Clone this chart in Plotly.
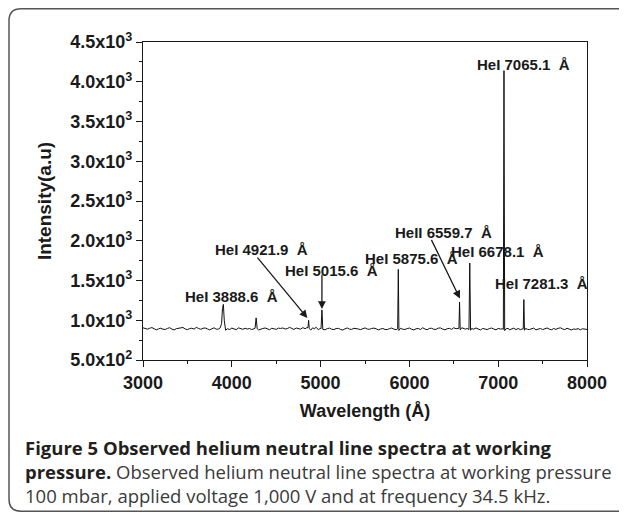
import plotly.graph_objects as go

# ---------------- Spectrum data ----------------
wavelength = [
    3000, 3025, 3050, 3075, 3100, 3125, 3150, 3175, 3200, 3225,
    3250, 3275, 3300, 3325, 3350, 3375, 3400, 3425, 3450, 3475,
    3500, 3525, 3550, 3575, 3600, 3625, 3650, 3675, 3700, 3725,
    3750, 3775, 3800, 3825, 3850, 3870, 3885, 3895, 3905, 3915,
    3930, 3950, 3975, 4000, 4025, 4050, 4075, 4100, 4125, 4150,
    4175, 4200, 4225, 4250, 4262, 4274, 4286, 4300, 4325, 4350,
    4375, 4400, 4425, 4450, 4475, 4500, 4525, 4550, 4575, 4600,
    4625, 4650, 4675, 4700, 4725, 4750, 4775, 4800, 4825, 4845,
    4858, 4865, 4872, 4890, 4910, 4930, 4950, 4975, 4995, 5005,
    5015, 5025, 5050, 5075, 5100, 5125, 5150, 5175, 5200, 5225,
    5250, 5275, 5300, 5325, 5350, 5375, 5400, 5425, 5450, 5475,
    5500, 5525, 5550, 5575, 5600, 5625, 5650, 5675, 5700, 5725,
    5750, 5775, 5800, 5825, 5850, 5868, 5875, 5882, 5900, 5925,
    5950, 5975, 6000, 6025, 6050, 6075, 6100, 6125, 6150, 6175,
    6200, 6225, 6250, 6275, 6300, 6325, 6350, 6375, 6400, 6425,
    6450, 6475, 6500, 6525, 6545, 6558, 6565, 6572, 6590, 6610,
    6630, 6650, 6671, 6680, 6689, 6700, 6725, 6750, 6775, 6800,
    6825, 6850, 6875, 6900, 6925, 6950, 6975, 7000, 7025, 7045,
    7058, 7065, 7073, 7090, 7110, 7130, 7150, 7175, 7200, 7225,
    7250, 7270, 7282, 7289, 7296, 7310, 7330, 7350, 7375, 7400,
    7425, 7450, 7475, 7500, 7525, 7550, 7575, 7600, 7625, 7650,
    7675, 7700, 7725, 7750, 7775, 7800, 7825, 7850, 7875, 7900,
    7925, 7950, 7975, 8000,
]

intensity = [
    905, 896, 888, 899, 908, 893, 880, 891, 900, 887,
    884, 897, 906, 889, 878, 894, 897, 903, 909, 890,
    882, 895, 900, 888, 910, 897, 886, 899, 903, 891,
    879, 893, 905, 887, 890, 905, 960, 1150, 1200, 1000,
    875, 893, 884, 901, 890, 882, 904, 895, 886, 899,
    890, 896, 883, 893, 900, 1030, 892, 878, 890, 896,
    903, 888, 881, 899, 893, 885, 901, 897, 903, 889,
    895, 910, 898, 884, 902, 893, 888, 907, 894, 906,
    908, 1000, 896, 876, 905, 893, 912, 880, 898, 893,
    1130, 884, 880, 895, 901, 887, 883, 896, 898, 885,
    877, 892, 903, 888, 885, 899, 899, 890, 882, 894,
    904, 889, 886, 897, 901, 893, 879, 890, 897, 884,
    883, 894, 902, 889, 881, 892, 1640, 872, 899, 887,
    884, 895, 902, 887, 878, 893, 896, 884, 905, 890,
    881, 897, 899, 886, 885, 901, 903, 889, 880, 893,
    898, 885, 906, 893, 900, 899, 1230, 880, 906, 894,
    888, 897, 884, 1720, 874, 895, 888, 903, 891, 878,
    897, 886, 883, 895, 902, 890, 880, 897, 889, 893,
    885, 4140, 870, 894, 897, 881, 887, 900, 883, 895,
    883, 896, 893, 1260, 874, 898, 885, 883, 896, 901,
    879, 893, 897, 882, 894, 903, 888, 880, 896, 885,
    898, 905, 891, 882, 899, 893, 878, 890, 886, 895,
    880, 893, 889, 884,
]
assert len(wavelength) == len(intensity)

# ---------------- Line labels ----------------
label_text = [
    "HeI 7065.1  Å",
    "HeII 6559.7  Å",
    "HeI 6678.1  Å",
    "HeI 7281.3  Å",
    "HeI 5875.6  Å",
    "HeI 5015.6  Å",
    "HeI 4921.9  Å",
    "HeI 3888.6  Å",
]
label_x = [6738, 5815, 6445, 6940, 5478, 4575, 3787, 3450]
label_y = [4214, 2100, 1861, 1463, 1778, 1630, 1891, 1302]

# arrows: tail -> head
arrow_tail_x = [4275, 5015, 6240]
arrow_tail_y = [1807, 1592, 2030]
arrow_head_x = [4851, 5015, 6569]
arrow_head_y = [1029, 1140, 1273]

y_tickvals = [500, 1000, 1500, 2000, 2500, 3000, 3500, 4000, 4500]
y_ticktext = [
    "5.0x10<sup>2</sup>", "1.0x10<sup>3</sup>", "1.5x10<sup>3</sup>",
    "2.0x10<sup>3</sup>", "2.5x10<sup>3</sup>", "3.0x10<sup>3</sup>",
    "3.5x10<sup>3</sup>", "4.0x10<sup>3</sup>", "4.5x10<sup>3</sup>",
]
x_tickvals = [3000, 4000, 5000, 6000, 7000, 8000]

# ---------------- Figure ----------------
# page body keeps an 8px margin, so the figure is 16px smaller
OFF = 8
W, H = 627 - 2 * OFF, 520 - 2 * OFF
L, R, T, B = 135, 32, 34, 152

fig = go.Figure()

fig.add_trace(go.Scatter(
    x=wavelength,
    y=intensity,
    mode="lines",
    line=dict(color="#111111", width=1),
    showlegend=False,
    hoverinfo="skip"
))

# line labels
for txt, lx, ly in zip(label_text, label_x, label_y):
    fig.add_annotation(
        x=lx, y=ly, xref="x", yref="y",
        text=txt, showarrow=False,
        xanchor="left", yanchor="middle",
        font=dict(family="Liberation Sans", size=15, color="#1a1a1a", weight="bold")
    )

# arrows
for tx, ty, hx, hy in zip(arrow_tail_x, arrow_tail_y, arrow_head_x, arrow_head_y):
    fig.add_annotation(
        x=hx, y=hy, ax=tx, ay=ty,
        xref="x", yref="y", axref="x", ayref="y",
        text="", showarrow=True,
        arrowhead=2, arrowsize=1.2, arrowwidth=1.3,
        arrowcolor="#1a1a1a"
    )

# ---------------- Caption ----------------
pw = W - L - R
ph = H - T - B


def px_to_paper(px, py):
    # px, py are window pixels
    return (px - OFF - L) / pw, (H - B - (py - OFF)) / ph


cap_font = dict(family="Open Sans", size=18.5, color="#3a3a3a")
caption_lines = [
    "<b><span style='color:#231f20'>Figure 5 Observed helium neutral line spectra at working</span></b>",
    "<b><span style='color:#231f20'>pressure.</span></b> Observed helium neutral line spectra at working pressure",
    "100 mbar, applied voltage 1,000 V and at frequency 34.5 kHz.",
]
caption_y = [447, 471, 495]
for line, cy in zip(caption_lines, caption_y):
    cx, cyp = px_to_paper(23, cy)
    fig.add_annotation(
        x=cx, y=cyp, xref="paper", yref="paper",
        text=line, showarrow=False,
        xanchor="left", yanchor="middle",
        font=cap_font
    )

# rounded frame around figure + caption
x0, y1 = px_to_paper(9, 8.8)
x1, y0 = px_to_paper(650, 511.2)
rx = 12 / pw
ry = 12 / ph
frame = (
    f"M {x1},{y1} L {x0 + rx},{y1} Q {x0},{y1} {x0},{y1 - ry} "
    f"L {x0},{y0 + ry} Q {x0},{y0} {x0 + rx},{y0} L {x1},{y0}"
)
fig.add_shape(
    type="path", path=frame, xref="paper", yref="paper",
    line=dict(color="#555555", width=1.5)
)

fig.update_layout(
    width=W,
    height=H,
    margin=dict(l=L, r=R, t=T, b=B),
    paper_bgcolor="white",
    plot_bgcolor="white",
    font=dict(family="Liberation Sans", size=13, color="#1a1a1a"),
    showlegend=False
)

fig.update_xaxes(
    range=[3000, 8000],
    tickvals=x_tickvals,
    ticks="outside",
    ticklen=6,
    tickcolor="#1a1a1a",
    tickfont=dict(family="Liberation Sans", size=18, weight="bold"),
    minor=dict(ticks="outside", ticklen=3, dtick=500, tickcolor="#1a1a1a"),
    showline=True,
    linecolor="#1a1a1a",
    linewidth=1.2,
    mirror=True,
    showgrid=False,
    zeroline=False,
    title=dict(text="Wavelength (Å)", standoff=12,
               font=dict(family="Liberation Sans", size=18, weight="bold"))
)

fig.update_yaxes(
    range=[500, 4500],
    tickvals=y_tickvals,
    ticktext=y_ticktext,
    ticks="outside",
    ticklen=6,
    tickcolor="#1a1a1a",
    tickfont=dict(family="Liberation Sans", size=18, weight="bold"),
    minor=dict(ticks="outside", ticklen=3, dtick=250, tickcolor="#1a1a1a"),
    showline=True,
    linecolor="#1a1a1a",
    linewidth=1.2,
    mirror=True,
    showgrid=False,
    zeroline=False,
    title=dict(text="Intensity(a.u)", standoff=13,
               font=dict(family="Liberation Sans", size=19, weight="bold"))
)

fig.write_html("out.html")
